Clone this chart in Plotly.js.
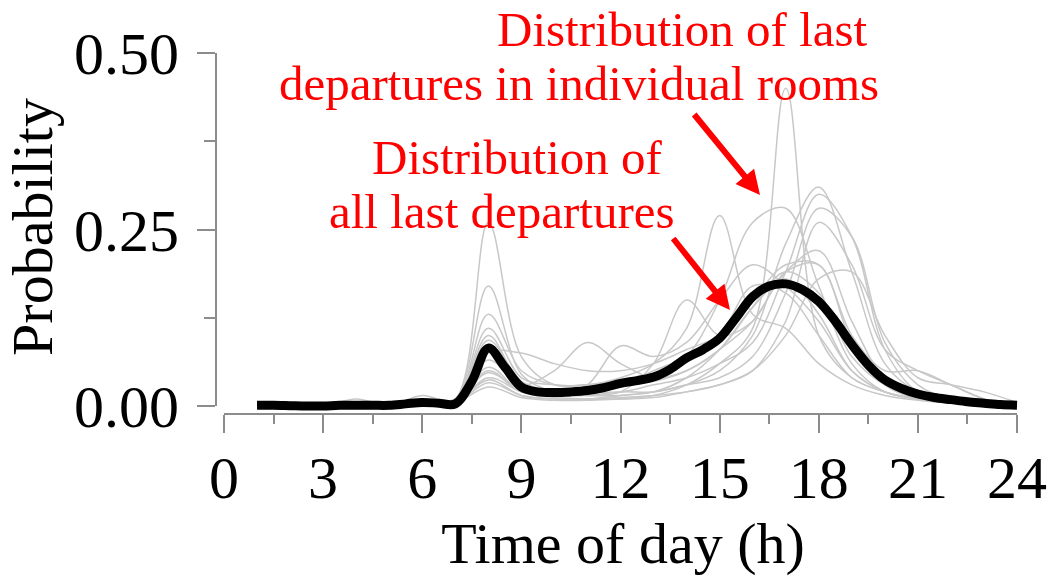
<!DOCTYPE html>
<html>
<head>
<meta charset="utf-8">
<script src="https://cdn.plot.ly/plotly-3.0.1.min.js"></script>
<style>
  html, body { margin: 0; padding: 0; background: #fff; }
  #chart { width: 1050px; height: 579px; }
</style>
</head>
<body>
<div id="chart"></div>
<script>
// Hour grid for the per-room curves
const hours = [1,2,3,4,5,6,7,8,9,10,11,12,13,14,15,16,17,18,19,20,21,22,23,24];

// Last-departure probability per hour, one array per room
const room01 = [0,0,0,0.002,0,0.004,0.005,0.04,0.02,0.012,0.01,0.01,0.015,0.03,0.06,0.11,0.45,0.1,0.04,0.02,0.01,0.005,0.002,0];
const room02 = [0,0,0,0,0,0.005,0.01,0.26,0.07,0.03,0.03,0.03,0.035,0.05,0.08,0.14,0.19,0.16,0.07,0.03,0.015,0.01,0.005,0];
const room03 = [0,0,0,0,0,0.003,0.008,0.17,0.045,0.02,0.015,0.015,0.02,0.03,0.05,0.1,0.23,0.31,0.19,0.06,0.02,0.01,0.005,0];
const room04 = [0,0,0,0,0,0.004,0.006,0.13,0.05,0.03,0.03,0.035,0.04,0.07,0.15,0.26,0.28,0.17,0.06,0.02,0.01,0.005,0.002,0];
const room05 = [0,0,0,0,0,0.003,0.006,0.11,0.04,0.03,0.03,0.04,0.06,0.11,0.27,0.13,0.11,0.06,0.03,0.015,0.008,0.004,0.002,0];
const room06 = [0,0,0,0,0,0.003,0.005,0.10,0.03,0.02,0.02,0.02,0.03,0.04,0.06,0.09,0.19,0.30,0.24,0.08,0.02,0.01,0.004,0];
const room07 = [0,0,0,0.01,0,0.003,0.005,0.093,0.035,0.02,0.015,0.02,0.02,0.03,0.04,0.07,0.16,0.28,0.24,0.09,0.03,0.01,0.004,0];
const room08 = [0,0,0,0,0,0.004,0.008,0.075,0.075,0.06,0.05,0.05,0.06,0.08,0.1,0.15,0.2,0.2,0.1,0.05,0.05,0.03,0.01,0];
const room09 = [0,0,0,0,0,0.004,0.01,0.065,0.03,0.05,0.09,0.06,0.04,0.05,0.08,0.12,0.19,0.22,0.12,0.04,0.02,0.01,0.005,0];
const room10 = [0,0,0,0,0,0.015,0.006,0.055,0.02,0.015,0.03,0.085,0.07,0.09,0.15,0.2,0.17,0.12,0.05,0.02,0.01,0.005,0.002,0];
const room11 = [0,0,0,0,0,0.003,0.005,0.047,0.02,0.015,0.015,0.02,0.06,0.15,0.1,0.12,0.19,0.2,0.09,0.03,0.01,0.005,0.002,0];
const room12 = [0,0,0,0,0,0.003,0.005,0.037,0.015,0.01,0.01,0.015,0.02,0.04,0.08,0.14,0.18,0.13,0.05,0.02,0.01,0.005,0.002,0];
const room13 = [0,0,0,0,0,0.003,0.004,0.033,0.015,0.01,0.01,0.012,0.015,0.02,0.03,0.05,0.12,0.26,0.2,0.08,0.05,0.03,0.01,0];
const room14 = [0,0,0,0,0,0.002,0.004,0.027,0.012,0.008,0.008,0.01,0.012,0.02,0.03,0.05,0.1,0.18,0.19,0.1,0.04,0.03,0.02,0.005];
const room15 = [0,0,0,0,0,0.003,0.005,0.05,0.02,0.02,0.02,0.03,0.05,0.07,0.1,0.17,0.16,0.1,0.04,0.02,0.01,0.005,0.002,0];

const rooms = [room01, room02, room03, room04, room05, room06, room07, room08,
               room09, room10, room11, room12, room13, room14, room15];

// All last departures pooled, on a half-hour grid
const hoursHalf = [1,1.5,2,2.5,3,3.5,4,4.5,5,5.5,6,6.5,7,7.5,8,8.5,9,9.5,10,10.5,11,11.5,12,12.5,
                   13,13.5,14,14.5,15,15.5,16,16.5,17,17.5,18,18.5,19,19.5,20,20.5,21,21.5,22,22.5,23,23.5,24];
const allRooms = [0.001,0.001,0.0005,0,0,0.001,0.001,0.001,0.001,0.003,0.005,0.004,0.003,0.035,0.082,0.055,0.027,0.02,
                  0.019,0.02,0.022,0.026,0.032,0.036,0.041,0.052,0.068,0.08,0.096,0.125,0.155,0.17,0.173,0.165,0.148,
                  0.12,0.087,0.058,0.037,0.025,0.017,0.012,0.009,0.006,0.004,0.002,0.001];

// Tick labels
const xTicks = [0,3,6,9,12,15,18,21,24];
const yTicks = [0, 0.25, 0.5];
const yTickText = ['0.00', '0.25', '0.50'];

const serif = 'Liberation Serif, Times New Roman, serif';
const axisGrey = '#8c8c8c';

const traces = rooms.map(vals => ({
  x: hours, y: vals, type: 'scatter', mode: 'lines',
  line: { color: '#c8c8c8', width: 1.5, shape: 'spline', smoothing: 1 },
  hoverinfo: 'skip', showlegend: false
}));
traces.push({
  x: hoursHalf, y: allRooms, type: 'scatter', mode: 'lines',
  line: { color: '#000', width: 9, shape: 'spline', smoothing: 1 },
  hoverinfo: 'skip', showlegend: false
});

// plot area: left 216, right 1030, top 40, bottom 414 (px)
const L = 216, R = 1030, T = 40, B = 414;
const px = v => (v - L) / (R - L);
const py = v => (B - v) / (B - T);

const red = '#ff0000';
const labelFont = { family: serif, size: 49, color: red };

const annotations = [
  { text: 'Distribution of last', x: px(682), y: py(30) },
  { text: 'departures in individual rooms', x: px(579), y: py(83) },
  { text: 'Distribution of', x: px(517), y: py(157) },
  { text: 'all last departures', x: px(502), y: py(212) }
].map(a => Object.assign({
  xref: 'paper', yref: 'paper', xanchor: 'center', yanchor: 'middle',
  showarrow: false, font: labelFont
}, a));

// arrows pointing at the two kinds of curve
annotations.push({
  xref: 'paper', yref: 'paper', x: px(760), y: py(195), text: '',
  showarrow: true, axref: 'pixel', ayref: 'pixel', ax: -67, ay: -82,
  arrowhead: 2, arrowsize: 0.8, arrowwidth: 6, arrowcolor: red, standoff: 0
});
annotations.push({
  xref: 'paper', yref: 'paper', x: px(730), y: py(310), text: '',
  showarrow: true, axref: 'pixel', ayref: 'pixel', ax: -58, ay: -73,
  arrowhead: 2, arrowsize: 0.8, arrowwidth: 6, arrowcolor: red, standoff: 0
});

const layout = {
  width: 1050, height: 579,
  margin: { l: L, r: 1050 - R, t: T, b: 579 - B, pad: 0 },
  paper_bgcolor: '#fff', plot_bgcolor: '#fff',
  font: { family: serif, color: '#000' },
  xaxis: {
    range: [-0.242, 24.393], showgrid: false, zeroline: false, showline: false,
    tickmode: 'array', tickvals: xTicks, ticktext: xTicks.map(String),
    ticks: 'outside', ticklen: 18, tickwidth: 2, tickcolor: axisGrey,
    tickfont: { family: serif, size: 60, color: '#000' },
    ticklabelstandoff: -7,
    minor: { dtick: 1.5, tick0: 0, ticks: 'outside', ticklen: 9, tickwidth: 2, tickcolor: axisGrey },
    title: { text: 'Time of day (h)', font: { family: serif, size: 58, color: '#000' }, standoff: 10 },
    automargin: false, fixedrange: true
  },
  yaxis: {
    range: [-0.01133, 0.5184], showgrid: false, zeroline: false, showline: false,
    tickmode: 'array', tickvals: yTicks, ticktext: yTickText,
    ticks: 'outside', ticklen: 18, tickwidth: 2, tickcolor: axisGrey,
    tickfont: { family: serif, size: 60, color: '#000' },
    ticklabelstandoff: 6,
    minor: { dtick: 0.125, tick0: 0, ticks: 'outside', ticklen: 11, tickwidth: 2, tickcolor: axisGrey },
    title: { text: 'Probability', font: { family: serif, size: 58, color: '#000' }, standoff: 10 },
    automargin: false, fixedrange: true
  },
  shapes: [
    { type: 'line', xref: 'x', yref: 'paper', x0: 0, x1: 24, y0: 0, y1: 0,
      line: { color: axisGrey, width: 2 } },
    { type: 'line', xref: 'paper', yref: 'y', x0: 0, x1: 0, y0: 0, y1: 0.5,
      line: { color: axisGrey, width: 2 } }
  ],
  annotations: annotations,
  showlegend: false
};

Plotly.newPlot('chart', traces, layout, { displayModeBar: false, staticPlot: true });
</script>
</body>
</html>
